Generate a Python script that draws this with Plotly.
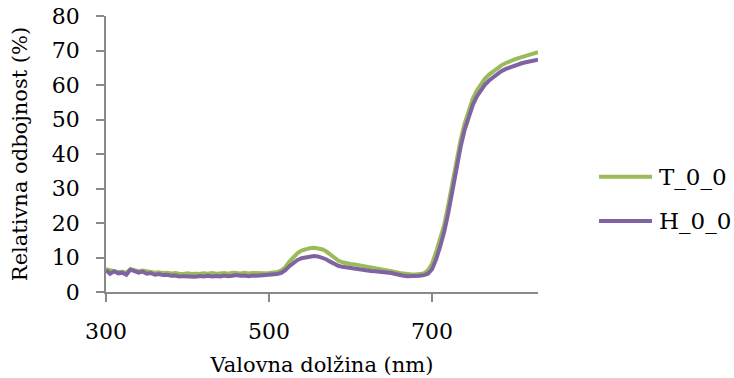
import plotly.graph_objects as go

# Wavelength grid (nm)
wavelength = list(range(300, 835, 5))

# Relative reflectance (%) for sample T_0_0
t_0_0 = [
    6.6, 6.2, 6.0, 5.8, 5.9, 5.6, 6.6, 6.3, 6.0, 6.2,
    5.9, 5.8, 5.6, 5.7, 5.5, 5.6, 5.4, 5.5, 5.3, 5.2,
    5.4, 5.2, 5.3, 5.2, 5.4, 5.3, 5.5, 5.3, 5.4, 5.5,
    5.3, 5.6, 5.5, 5.4, 5.6, 5.4, 5.5, 5.4, 5.5, 5.4,
    5.5, 5.6, 5.8, 6.2, 7.2, 8.8, 10.2, 11.3, 12.0, 12.4,
    12.7, 12.8, 12.7, 12.4, 11.8, 10.9, 9.9, 9.1, 8.6, 8.3,
    8.1, 8.0, 7.8, 7.5, 7.3, 7.1, 6.8, 6.6, 6.4, 6.3,
    6.1, 5.8, 5.5, 5.3, 5.2, 5.1, 5.1, 5.2, 5.4, 6.3,
    8.2, 11.6, 15.2, 19.5, 25.3, 31.8, 38.2, 44.0, 48.8, 52.8,
    56.0, 58.4, 60.4, 61.9, 63.0, 64.0, 64.9, 65.7, 66.3, 66.9,
    67.3, 67.7, 68.1, 68.6, 69.0, 69.3, 69.5,
]

# Relative reflectance (%) for sample H_0_0
h_0_0 = [
    6.4, 5.3, 6.0, 5.4, 5.6, 5.0, 6.5, 6.0, 5.6, 5.9,
    5.3, 5.5, 5.0, 5.2, 4.9, 5.0, 4.7, 4.8, 4.5, 4.6,
    4.5, 4.6, 4.4, 4.6, 4.5, 4.7, 4.5, 4.6, 4.5, 4.8,
    4.6, 4.7, 4.9, 4.7, 4.8, 4.6, 4.8, 4.7, 4.8, 4.8,
    4.9, 5.0, 5.2, 5.5, 6.3, 7.5, 8.5, 9.3, 9.8, 10.1,
    10.3, 10.4, 10.3, 10.0, 9.5, 8.8, 8.1, 7.6, 7.3, 7.1,
    7.0, 6.8, 6.7, 6.5, 6.3, 6.1, 6.0, 5.9, 5.7, 5.6,
    5.5, 5.2, 4.9, 4.7, 4.6, 4.6, 4.6, 4.7, 4.9, 5.3,
    6.6, 9.5, 13.2, 17.5, 23.0, 29.5, 36.0, 42.0, 47.0, 51.0,
    54.2, 56.7, 58.6, 60.1, 61.3, 62.3, 63.2, 64.0, 64.6, 65.1,
    65.5, 65.9, 66.3, 66.6, 66.9, 67.1, 67.3,
]

x_ticks = [300, 500, 700]
series_names = ["T_0_0", "H_0_0"]
series_colors = ["#9BBB59", "#8064A2"]

FONT = "DejaVu Serif"
AXIS_GRAY = "#898989"

fig = go.Figure()
for name, values, color in zip(series_names, [t_0_0, h_0_0], series_colors):
    fig.add_trace(go.Scatter(
        x=wavelength, y=values, mode="lines", name=name,
        line=dict(color=color, width=4), showlegend=False,
    ))

# Legend drawn beside the plot area: a short line sample and the series name
legend_y = [0.418, 0.257]
for name, color, ly in zip(series_names, series_colors, legend_y):
    fig.add_shape(type="line", xref="paper", yref="paper",
                  x0=1.1412, x1=1.2639, y0=ly, y1=ly,
                  line=dict(color=color, width=4))
    fig.add_annotation(text=name, xref="paper", yref="paper",
                       x=1.2755, y=ly, xanchor="left", yanchor="middle",
                       showarrow=False, font=dict(size=23, color="black", family=FONT))

axis_common = dict(
    showline=True, linecolor=AXIS_GRAY, linewidth=1.5,
    ticks="outside", ticklen=8, tickcolor=AXIS_GRAY, tickwidth=1.5,
    showgrid=False, zeroline=False, automargin=False,
    tickfont=dict(size=22, color="black", family=FONT),
)

fig.update_xaxes(
    range=[300, 830], tickvals=x_ticks, ticklabelstandoff=11,
    title=dict(text="Valovna dolžina (nm)", standoff=14,
               font=dict(size=21, color="black", family=FONT)),
    **axis_common,
)
fig.update_yaxes(
    range=[0, 80], dtick=10, ticklabelstandoff=12,
    title=dict(text="Relativna odbojnost (%)", standoff=18,
               font=dict(size=21, color="black", family=FONT)),
    **axis_common,
)

fig.update_layout(
    width=734, height=378,
    margin=dict(l=106, r=196, t=16, b=86),
    paper_bgcolor="white", plot_bgcolor="white",
    font=dict(family=FONT, color="black"),
)

fig.write_html("out.html")
